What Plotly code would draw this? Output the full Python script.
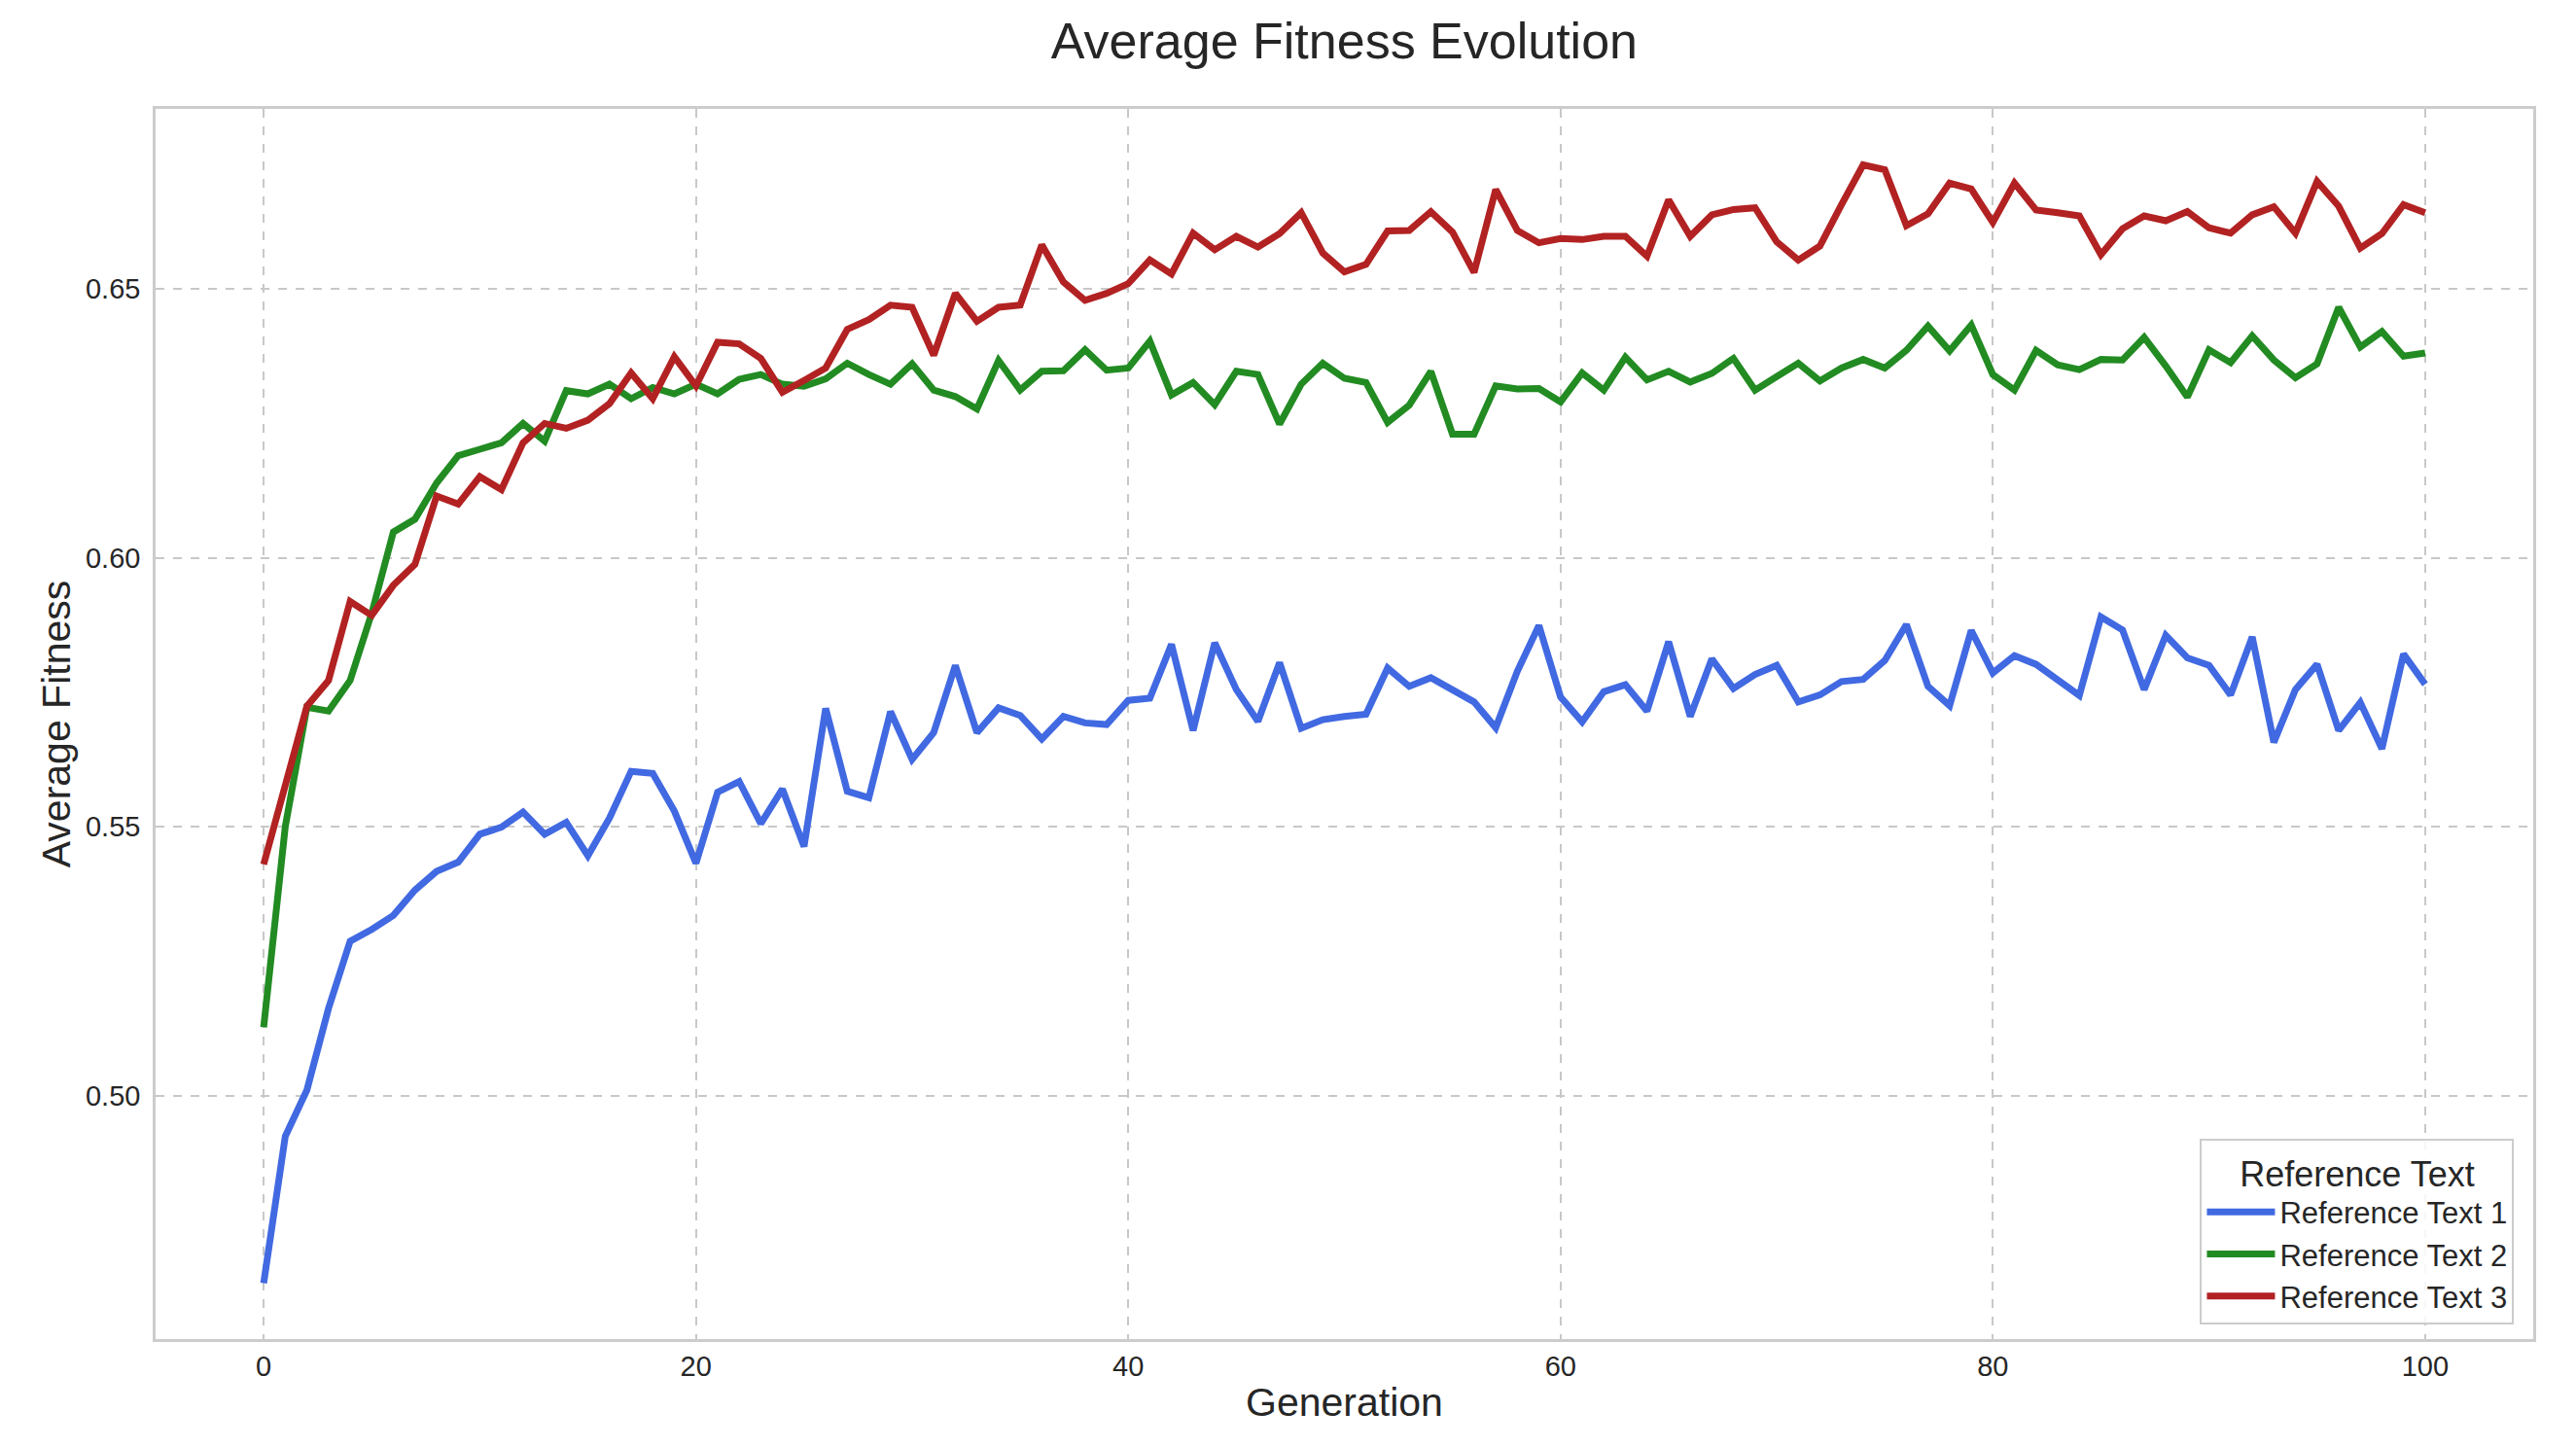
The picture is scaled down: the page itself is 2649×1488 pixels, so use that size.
import plotly.graph_objects as go

generations = list(range(101))

series_names = ["Reference Text 1", "Reference Text 2", "Reference Text 3"]
series_colors = ["#4169E1", "#228B22", "#B22222"]

fitness_1 = [
    0.4651, 0.4924, 0.5010, 0.5162, 0.5287, 0.5309, 0.5335, 0.5382, 0.5417, 0.5434,
    0.5486, 0.5499, 0.5527, 0.5486, 0.5508, 0.5446, 0.5516, 0.5603, 0.5599, 0.5529,
    0.5432, 0.5564, 0.5584, 0.5506, 0.5570, 0.5463, 0.5720, 0.5566, 0.5554, 0.5714,
    0.5625, 0.5675, 0.5800, 0.5675, 0.5721, 0.5707, 0.5663, 0.5705, 0.5693, 0.5690,
    0.5735, 0.5739, 0.5839, 0.5679, 0.5842, 0.5755, 0.5696, 0.5805, 0.5683, 0.5699,
    0.5705, 0.5709, 0.5795, 0.5761, 0.5777, 0.5755, 0.5732, 0.5684, 0.5789, 0.5874,
    0.5741, 0.5695, 0.5751, 0.5764, 0.5715, 0.5844, 0.5705, 0.5812, 0.5757, 0.5783,
    0.5800, 0.5732, 0.5745, 0.5770, 0.5774, 0.5809, 0.5876, 0.5761, 0.5725, 0.5865,
    0.5786, 0.5818, 0.5802, 0.5773, 0.5744, 0.5890, 0.5866, 0.5755, 0.5856, 0.5814,
    0.5800, 0.5745, 0.5853, 0.5657, 0.5755, 0.5802, 0.5679, 0.5731, 0.5645, 0.5821,
    0.5765,
]

fitness_2 = [
    0.5127, 0.5500, 0.5722, 0.5715, 0.5772, 0.5897, 0.6048, 0.6072, 0.6139, 0.6190,
    0.6202, 0.6214, 0.6250, 0.6217, 0.6311, 0.6305, 0.6323, 0.6296, 0.6317, 0.6305,
    0.6323, 0.6305, 0.6332, 0.6341, 0.6323, 0.6319, 0.6333, 0.6362, 0.6341, 0.6323,
    0.6361, 0.6312, 0.6300, 0.6277, 0.6367, 0.6312, 0.6347, 0.6348, 0.6387, 0.6349,
    0.6353, 0.6403, 0.6303, 0.6326, 0.6285, 0.6347, 0.6341, 0.6249, 0.6323, 0.6362,
    0.6334, 0.6326, 0.6252, 0.6284, 0.6347, 0.6230, 0.6230, 0.6320, 0.6314, 0.6315,
    0.6290, 0.6344, 0.6312, 0.6373, 0.6331, 0.6347, 0.6327, 0.6343, 0.6371, 0.6312,
    0.6337, 0.6362, 0.6329, 0.6353, 0.6369, 0.6353, 0.6386, 0.6431, 0.6385, 0.6433,
    0.6341, 0.6312, 0.6386, 0.6359, 0.6350, 0.6369, 0.6368, 0.6410, 0.6357, 0.6299,
    0.6387, 0.6363, 0.6413, 0.6368, 0.6335, 0.6361, 0.6466, 0.6392, 0.6421, 0.6375,
    0.6381,
]

fitness_3 = [
    0.5430, 0.5577, 0.5724, 0.5772, 0.5919, 0.5893, 0.5949, 0.5988, 0.6115, 0.6100,
    0.6151, 0.6127, 0.6214, 0.6250, 0.6241, 0.6256, 0.6287, 0.6344, 0.6296, 0.6374,
    0.6320, 0.6401, 0.6398, 0.6371, 0.6308, 0.6330, 0.6353, 0.6425, 0.6443, 0.6470,
    0.6466, 0.6377, 0.6492, 0.6440, 0.6466, 0.6470, 0.6582, 0.6513, 0.6479, 0.6492,
    0.6510, 0.6554, 0.6528, 0.6604, 0.6573, 0.6598, 0.6578, 0.6603, 0.6642, 0.6567,
    0.6532, 0.6546, 0.6608, 0.6609, 0.6644, 0.6606, 0.6531, 0.6685, 0.6609, 0.6586,
    0.6594, 0.6592, 0.6598, 0.6598, 0.6561, 0.6666, 0.6598, 0.6638, 0.6648, 0.6651,
    0.6588, 0.6554, 0.6580, 0.6657, 0.6731, 0.6722, 0.6618, 0.6640, 0.6697, 0.6686,
    0.6624, 0.6697, 0.6647, 0.6642, 0.6636, 0.6564, 0.6612, 0.6636, 0.6627, 0.6644,
    0.6614, 0.6604, 0.6638, 0.6653, 0.6604, 0.6700, 0.6654, 0.6576, 0.6603, 0.6657,
    0.6642,
]

x_ticks = [0, 20, 40, 60, 80, 100]
y_ticks = [0.50, 0.55, 0.60, 0.65]

FONT = "Liberation Sans, Arial, sans-serif"
TEXT = "#262626"

fig = go.Figure()
for name, color, vals in zip(series_names, series_colors, [fitness_1, fitness_2, fitness_3]):
    fig.add_trace(go.Scatter(
        x=generations, y=vals, mode="lines", name=name,
        line=dict(color=color, width=7),
    ))

axis_common = dict(
    showline=True, mirror=True, linecolor="#cccccc", linewidth=2.5,
    showgrid=True, gridcolor="#c8c8c8", gridwidth=1.5, griddash="dash",
    zeroline=False,
    tickfont=dict(family=FONT, size=29, color=TEXT),
)

fig.update_layout(
    width=2633, height=1472,
    paper_bgcolor="white", plot_bgcolor="white",
    margin=dict(l=152, r=36, t=104, b=103),
    font=dict(family=FONT, color=TEXT),
    title=dict(text="Average Fitness Evolution", x=0.522, xanchor="center",
               y=1 - 34 / 1472, yanchor="middle", yref="container",
               font=dict(family=FONT, size=52, color=TEXT)),
    xaxis=dict(range=[-5, 105], tickvals=x_ticks, ticks="", ticklen=0,
               title=dict(text="Generation", standoff=8,
                          font=dict(family=FONT, size=41, color=TEXT)),
               **axis_common),
    yaxis=dict(range=[0.4547, 0.6835], tickvals=y_ticks, tickformat=".2f",
               ticks="outside", ticklen=7, tickcolor="rgba(0,0,0,0)",
               title=dict(text="Average Fitness", standoff=3,
                          font=dict(family=FONT, size=41, color=TEXT)),
               **axis_common),
    legend=dict(
        x=0.992, y=0.012, xanchor="right", yanchor="bottom",
        bgcolor="rgba(255,255,255,0.85)", bordercolor="#cccccc", borderwidth=2,
        font=dict(family=FONT, size=31, color=TEXT),
        title=dict(text="Reference Text", side="top center",
                   font=dict(family=FONT, size=36, color=TEXT)),
        itemwidth=70,
    ),
    showlegend=True,
)

fig.write_html("out.html")
